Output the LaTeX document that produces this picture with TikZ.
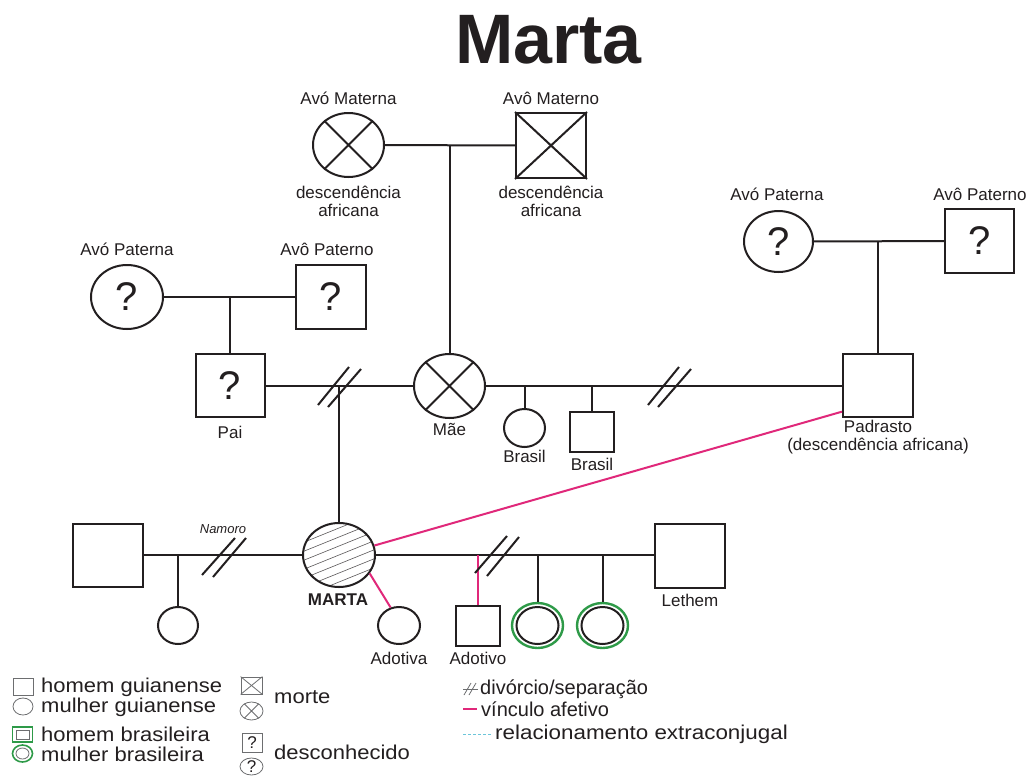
\documentclass[tikz,border=0pt]{standalone}
\usepackage{fontspec}
\setmainfont{Liberation Sans}
\usetikzlibrary{shapes.geometric}
\definecolor{ink}{HTML}{231F20}
\definecolor{afeto}{HTML}{E0287A}
\definecolor{brgreen}{HTML}{2E9A48}
\definecolor{extra}{HTML}{6CC6DA}
\definecolor{legline}{HTML}{6D6E70}
\begin{document}
\begin{tikzpicture}[x=1pt,y=-1pt,
  rel/.style={draw=ink,line width=2pt},
  afet/.style={draw=afeto,line width=2pt},
  slash/.style={draw=ink,line width=2pt},
  homem/.style={rectangle,draw=ink,line width=2pt,minimum width=70pt,minimum height=64pt,inner sep=0pt,fill=white,text=ink,font=\fontsize{40}{40}\selectfont},
  mulher/.style={ellipse,draw=ink,line width=2pt,minimum width=72pt,minimum height=64pt,inner sep=0pt,fill=white,text=ink,font=\fontsize{40}{40}\selectfont},
  homemP/.style={homem,minimum width=44pt,minimum height=40pt},
  mulherP/.style={mulher,minimum width=41pt,minimum height=38pt},
  lbl/.style={font=\fontsize{17}{17.5}\selectfont,text=ink,align=center,inner sep=0pt},
  hatch/.style={draw=ink!75,line width=0.6pt},
  leg/.style={font=\fontsize{20}{20}\selectfont,text=ink,anchor=west,inner sep=0pt},
  legsym/.style={draw=legline,line width=0.8pt,inner sep=0pt,text=ink,font=\fontsize{17}{17}\selectfont},
]
\useasboundingbox (0,0) rectangle (1031,780);
\fill[white] (0,0) rectangle (1031,780);

% title
\node[font=\fontsize{70}{70}\selectfont\bfseries,text=ink,anchor=base west,inner sep=0pt] (titulo) at (455,63) {Marta};

% maternal grandparents
\node[mulher,minimum width=71pt] (avoMat) at (348.5,145) {};
\node[homem,minimum height=65pt] (avoMato) at (551,145.5) {};
\draw[rel] (avoMat.45) -- (avoMat.-135) (avoMat.135) -- (avoMat.-45);
\draw[rel] (avoMato.north west) -- (avoMato.south east) (avoMato.north east) -- (avoMato.south west);
\node[lbl] (lAvoMat) at (348.5,98) {Avó Materna};
\node[lbl] (lAvoMato) at (551,98) {Avô Materno};
\node[lbl] (dAvoMat) at (348.5,201.5) {descendência\\africana};
\node[lbl] (dAvoMato) at (551,201.5) {descendência\\africana};

% father's parents (left)
\node[mulher] (lAvo) at (127,297) {?};
\node[homem] (lAvoo) at (331,297) {?};
\node[lbl] (llAvo) at (127,249) {Avó Paterna};
\node[lbl] (llAvoo) at (327,249) {Avô Paterno};

% stepfather's parents (right)
\node[mulher,minimum width=69pt,minimum height=61pt] (rAvo) at (778.5,241.5) {?};
\node[homem,minimum width=69pt] (rAvoo) at (979.5,241) {?};
\node[lbl] (lrAvo) at (777,194) {Avó Paterna};
\node[lbl] (lrAvoo) at (980,194) {Avô Paterno};

% parents' generation
\node[homem,minimum width=69pt,minimum height=63pt] (pai) at (230,385.5) {?};
\node[mulher,minimum width=71pt] (mae) at (449.5,386) {};
\draw[rel] (mae.45) -- (mae.-135) (mae.135) -- (mae.-45);
\node[homem,minimum height=63pt] (padrasto) at (878,385.5) {};
\node[mulherP] (brasilF) at (524.5,428) {};
\node[homemP] (brasilM) at (592,432) {};
\node[lbl] (lpai) at (230,432) {Pai};
\node[lbl] (lmae) at (449.5,429) {Mãe};
\node[lbl] (lbrF) at (524.5,456) {Brasil};
\node[lbl] (lbrM) at (592,464) {Brasil};
\node[lbl] (lpadrasto) at (878,437) {Padrasto\\(descendência africana)};

% Marta's generation
\node[homem,minimum height=63pt] (namorado) at (108,555.5) {};
\node[mulherP,minimum width=40pt,minimum height=37pt] (filha) at (178,625.5) {};
\node[mulher,path picture={
    \foreach \k in {-6,...,6}
      \draw[hatch] ([shift={(-42,{17+\k*9})}]path picture bounding box.center) -- ++(84,-34);
  }] (marta) at (339,555) {};
\node[mulherP,minimum width=42pt,minimum height=37pt] (adotiva) at (399,625.5) {};
\node[homemP] (adotivo) at (478,626) {};
\node[ellipse,draw=brgreen,line width=2.4pt,minimum width=51pt,minimum height=45pt,inner sep=0pt] (g1) at (537.5,625.5) {};
\node[ellipse,draw=ink,line width=2pt,minimum width=42pt,minimum height=37pt,inner sep=0pt] (g1i) at (537.5,625.5) {};
\node[ellipse,draw=brgreen,line width=2.4pt,minimum width=51pt,minimum height=45pt,inner sep=0pt] (g2) at (602.5,625.5) {};
\node[ellipse,draw=ink,line width=2pt,minimum width=42pt,minimum height=37pt,inner sep=0pt] (g2i) at (602.5,625.5) {};
\node[homem] (lethem) at (690,556) {};
\node[lbl,font=\fontsize{13}{13}\selectfont\itshape] (lnamoro) at (223,529) {Namoro};
\node[lbl,font=\fontsize{17}{17}\selectfont\bfseries] (lmarta) at (338,600) {MARTA};
\node[lbl] (ladotiva) at (399,658) {Adotiva};
\node[lbl] (ladotivo) at (478,658) {Adotivo};
\node[lbl] (llethem) at (690,600) {Lethem};

% relationship lines
\coordinate (mm) at (450,145.5);
\draw[rel] (avoMat) -- (avoMato);
\draw[rel] (mm) -- (mae.north -| mm);
\coordinate (lp) at (230,297);
\draw[rel] (lAvo) -- (lAvoo);
\draw[rel] (lp) -- (pai.north);
\coordinate (rp) at (878,241.5);
\draw[rel] (rAvo) -- (rAvoo);
\draw[rel] (rp) -- (padrasto.north);
\coordinate (pm) at (339,386);
\draw[rel] (pai.east |- mae.west) -- (mae.west);
\draw[rel] (pm) -- (marta.north);
\draw[rel] (mae.east) -- (padrasto.west |- mae.east);
\coordinate (b1) at (524.5,386);
\coordinate (b2) at (592,386);
\draw[rel] (b1) -- (brasilF.north);
\draw[rel] (b2) -- (brasilM.north);
\draw[rel] (namorado.east |- marta.west) -- (marta.west);
\coordinate (nm) at (178,555);
\draw[rel] (nm) -- (filha.north);
\draw[rel] (marta.east) -- (lethem.west |- marta.east);
\coordinate (c2) at (537.5,555);
\coordinate (c3) at (602.5,555);
\draw[rel] (c2) -- (g1.north);
\draw[rel] (c3) -- (g2.north);
\coordinate (c1) at (478,555);
\draw[afet] (c1) -- (adotivo.north);
\draw[afet] (marta.-31) -- (adotiva.115);
\draw[afet] (marta.15) -- (padrasto.-144);

% divorce / separation marks
\draw[slash] (318,405) -- (349,367) (328,407) -- (361,369);
\draw[slash] (648,405) -- (679,367) (658,407) -- (691,369);
\draw[slash] (202,575) -- (235,538) (213,577) -- (246,538);
\draw[slash] (475,573) -- (507,536) (487,576) -- (519,537);

% legend: nationality
\node[legsym,rectangle,minimum width=20pt,minimum height=17pt] (sqG) at (23,686.5) {};
\node[legsym,ellipse,minimum width=20pt,minimum height=17pt] (ciG) at (23,706.5) {};
\node[legsym,rectangle,draw=brgreen,line width=1.6pt,minimum width=20pt,minimum height=15pt] (sqB) at (22.5,734.5) {};
\node[legsym,rectangle,minimum width=13pt,minimum height=9pt] (sqBi) at (22.5,734.5) {};
\node[legsym,ellipse,draw=brgreen,line width=1.6pt,minimum width=20pt,minimum height=17pt] (ciB) at (22.5,753.5) {};
\node[legsym,ellipse,minimum width=13pt,minimum height=11pt] (ciBi) at (22.5,753.5) {};
\node[leg] (tHG) at (41,687) {\scalebox{1.1}[1]{homem guianense}};
\node[leg] (tMG) at (41,707) {\scalebox{1.1}[1]{mulher guianense}};
\node[leg] (tHB) at (41,734) {\scalebox{1.1}[1]{homem brasileira}};
\node[leg] (tMB) at (41,754) {\scalebox{1.1}[1]{mulher brasileira}};

% legend: death and unknown
\node[legsym,rectangle,minimum width=21pt,minimum height=17pt] (sqM) at (251.5,685.5) {};
\draw[legline,line width=0.8pt] (sqM.north west) -- (sqM.south east) (sqM.north east) -- (sqM.south west);
\node[legsym,ellipse,minimum width=23pt,minimum height=18pt] (ciM) at (251.5,711) {};
\draw[legline,line width=0.8pt] (ciM.45) -- (ciM.-135) (ciM.135) -- (ciM.-45);
\node[leg] (tMorte) at (274,697) {\scalebox{1.1}[1]{morte}};
\node[legsym,rectangle,minimum width=20pt,minimum height=19pt] (sqD) at (252,742.5) {?};
\node[legsym,ellipse,minimum width=23pt,minimum height=17pt] (ciD) at (251.5,766.5) {?};
\node[leg] (tDesc) at (274,752) {\scalebox{1.1}[1]{desconhecido}};

% legend: lines
\draw[legline,line width=0.8pt] (463,689) -- (478,689);
\draw[legline,line width=0.8pt] (464,695) -- (471,683) (469,695) -- (476,683);
\node[leg] (tDiv) at (480,689) {divórcio/separação};
\coordinate (pk1) at (463,709);
\coordinate (pk2) at (477,709);
\draw[afeto,line width=1.2pt] (pk1) -- (pk2);
\node[leg] (tVinc) at (481,709) {vínculo afetivo};
\coordinate (cy1) at (463,734);
\coordinate (cy2) at (492,734);
\draw[extra,line width=0.9pt,dash pattern=on 3pt off 2pt] (cy1) -- (cy2);
\node[leg] (tExtra) at (495,734) {\scalebox{1.12}[1]{relacionamento extraconjugal}};
\end{tikzpicture}
\end{document}
